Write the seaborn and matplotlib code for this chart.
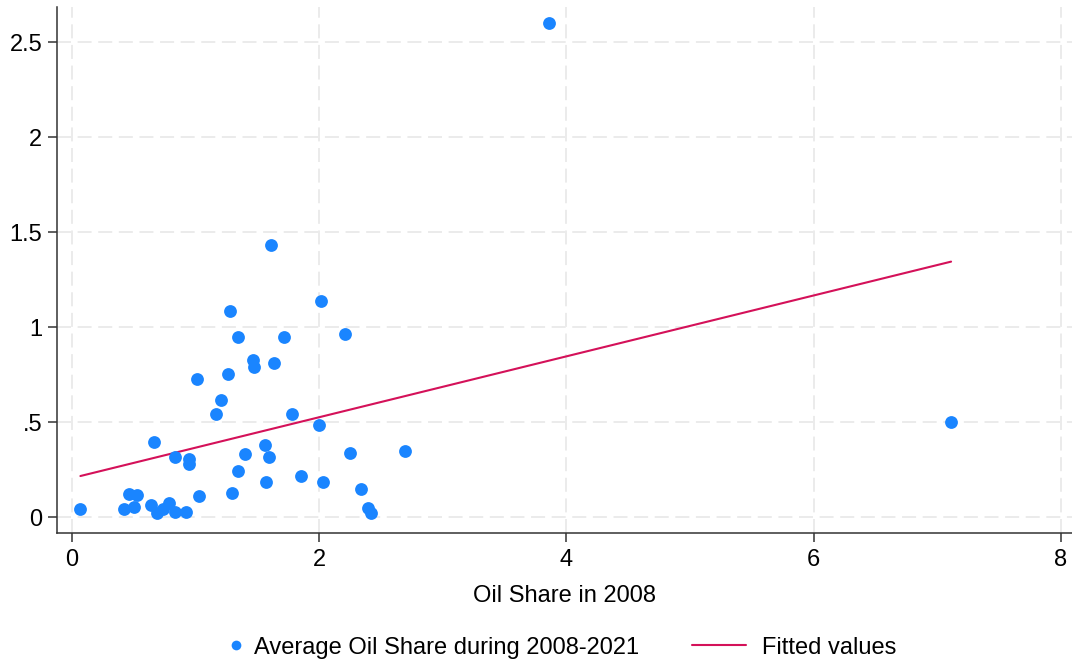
import matplotlib
matplotlib.use("Agg")
import matplotlib.pyplot as plt
import seaborn as sns
import numpy as np
import pandas as pd
from matplotlib.lines import Line2D
from matplotlib.legend_handler import HandlerBase

# ---- data ----
oil_share_2008 = [0.070, 0.423, 0.461, 0.526, 0.502, 0.637, 0.666, 0.693, 0.739, 0.790,
                  0.839, 0.836, 0.925, 0.952, 0.952, 1.033, 1.017, 1.165, 1.211, 1.262,
                  1.281, 1.343, 1.300, 1.343, 1.400, 1.462, 1.475, 1.559, 1.572, 1.594,
                  1.610, 1.637, 1.718, 1.782, 1.858, 1.998, 2.020, 2.036, 2.214, 2.252,
                  2.341, 2.397, 2.422, 2.692, 3.857, 7.112]
avg_oil_share = [0.042, 0.041, 0.120, 0.116, 0.053, 0.062, 0.395, 0.023, 0.044, 0.074,
                 0.025, 0.318, 0.028, 0.307, 0.281, 0.111, 0.729, 0.545, 0.616, 0.754,
                 1.083, 0.947, 0.128, 0.241, 0.334, 0.829, 0.789, 0.378, 0.184, 0.318,
                 1.435, 0.810, 0.950, 0.543, 0.216, 0.485, 1.138, 0.186, 0.963, 0.337,
                 0.149, 0.049, 0.021, 0.346, 2.601, 0.502]
x_ticks = [0, 2, 4, 6, 8]
x_tick_labels = ["0", "2", "4", "6", "8"]
y_ticks = [0, 0.5, 1, 1.5, 2, 2.5]
y_tick_labels = ["0", ".5", "1", "1.5", "2", "2.5"]
x_label = "Oil Share in 2008"
scatter_label = "Average Oil Share during 2008-2021"
fit_label = "Fitted values"

df = pd.DataFrame({"x": oil_share_2008, "y": avg_oil_share})

sns.set_theme(style="white")
plt.rcParams["font.family"] = ["Liberation Sans", "DejaVu Sans"]
plt.rcParams["text.color"] = "black"

BLUE = "#1A85FF"
RED = "#D41159"
FS = 17

fig = plt.figure(figsize=(10.72, 6.64), dpi=100)
ax = fig.add_axes([0.0532, 0.1973, 0.9468, 0.7922])

sns.scatterplot(data=df, x="x", y="y", ax=ax, color=BLUE, s=85, linewidth=0,
                zorder=3, legend=False)
sns.regplot(data=df, x="x", y="y", ax=ax, scatter=False, ci=None, truncate=True,
            line_kws={"color": RED, "linewidth": 1.5, "zorder": 2})

ax.set_xlim(-0.119, 8.09)
ax.set_ylim(-0.084, 2.687)
ax.set_xticks(x_ticks)
ax.set_xticklabels(x_tick_labels)
ax.set_yticks(y_ticks)
ax.set_yticklabels(y_tick_labels)

ax.grid(True, color="#EBEBEB", linestyle=(0, (7.2, 3.4)), linewidth=1.4, zorder=0)
ax.set_axisbelow(True)

for side in ["top", "right"]:
    ax.spines[side].set_visible(False)
for side in ["left", "bottom"]:
    ax.spines[side].set_color("#333333")
    ax.spines[side].set_linewidth(1.1)

ax.tick_params(axis="both", which="major", direction="out", length=6.5, width=1.1,
               color="#333333", labelsize=FS, labelcolor="black", pad=4,
               left=True, bottom=True)
ax.tick_params(axis="x", pad=5)

ax.set_xlabel(x_label, fontsize=FS, color="black", labelpad=10)
ax.set_ylabel("")


class RightMarkerHandler(HandlerBase):
    def create_artists(self, legend, orig_handle, xdescent, ydescent, width, height,
                       fontsize, trans):
        m = Line2D([width - xdescent - 1.0], [height / 2.0 - ydescent], marker="o",
                   linestyle="none", color=orig_handle.get_color(),
                   markersize=orig_handle.get_markersize(), markeredgewidth=0)
        m.set_transform(trans)
        return [m]


marker_handle = Line2D([], [], marker="o", linestyle="none", color=BLUE, markersize=7,
                       markeredgewidth=0)
line_handle = Line2D([], [], color=RED, linewidth=1.5)
fig.legend([marker_handle, line_handle], [scatter_label, fit_label], loc="center",
           bbox_to_anchor=(0.5036, 0.0245), ncol=2, frameon=False, fontsize=FS,
           handlelength=2.3, handletextpad=0.68, columnspacing=2.25, borderaxespad=0,
           borderpad=0, labelcolor="black",
           handler_map={marker_handle: RightMarkerHandler()})

fig.savefig("out.png", dpi=100, facecolor="white")
